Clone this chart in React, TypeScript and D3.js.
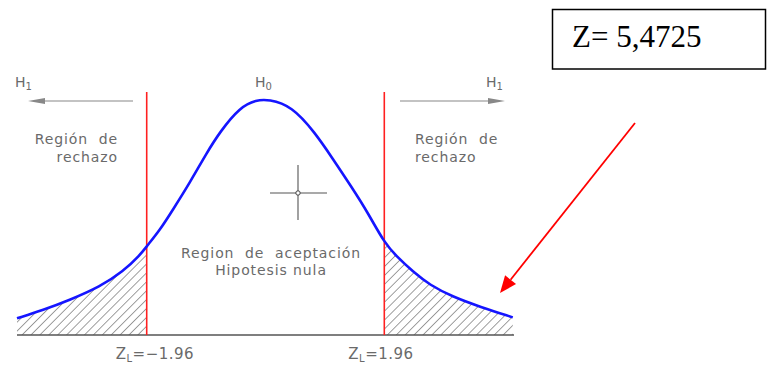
import React from "react";
import * as d3 from "d3";

// Curve: z value and density
const zValues = [-4.1, -3.67, -3.23, -2.73, -2.35, -2.07, -1.96, -1.74, -1.53, -1.25, -0.97, -0.75, -0.42, -0.15, 0.05, 0.43, 0.82, 1.09, 1.42, 1.69, 1.96, 2.17, 2.43, 2.71, 3.09, 3.54, 4.08];
const densities = [0.0284, 0.0426, 0.0596, 0.0822, 0.108, 0.136, 0.151, 0.179, 0.213, 0.259, 0.31, 0.346, 0.388, 0.4, 0.401, 0.39, 0.344, 0.303, 0.252, 0.208, 0.157, 0.133, 0.108, 0.085, 0.065, 0.048, 0.03];
const criticalValues = [-1.96, 1.96];
const criticalLabels = ["Z", "Z"];
const criticalTexts = ["=\u22121.96", "=1.96"];
const zStatisticText = "Z= 5,4725";

const W = 774;
const H = 367;

export default function App() {
  const x = d3.scaleLinear().domain([-4.1, 4.1]).range([17, 514]);
  const y = d3.scaleLinear().domain([0, 0.4]).range([335, 100]);
  const pts = zValues.map((z, i) => ({ z, d: densities[i] }));
  const curve = d3.curveBasis;
  const line = d3.line<any>().x((p) => x(p.z)).y((p) => y(p.d)).curve(curve);
  const area = d3.area<any>().x((p) => x(p.z)).y0(y(0)).y1((p) => y(p.d)).curve(curve);
  const gray = "#6a6a6a";
  const font = "'DejaVu Sans', sans-serif";
  const zMin = zValues[0];
  const zMax = zValues[zValues.length - 1];

  // red annotation arrow
  const ax1 = 635, ay1 = 123, ax2 = 500, ay2 = 293;
  const ang = Math.atan2(ay2 - ay1, ax2 - ax1);
  const hl = 17, hw = 7;
  const bx = ax2 - hl * Math.cos(ang), by = ay2 - hl * Math.sin(ang);
  const head = [
    [ax2, ay2],
    [bx + hw * Math.sin(ang), by - hw * Math.cos(ang)],
    [bx - hw * Math.sin(ang), by + hw * Math.cos(ang)],
  ].map((p) => p.join(",")).join(" ");

  const textStyle: any = { fontFamily: font, fontSize: 14, fill: gray, letterSpacing: 0.9 };

  return (
    <svg width={W} height={H} style={{ position: "absolute", left: 0, top: 0, background: "#fff" }}>
      <defs>
        <pattern id="hatch" patternUnits="userSpaceOnUse" width={6.3} height={6.3} patternTransform="rotate(45)">
          <line x1={0} y1={0} x2={0} y2={6.3} stroke="#505050" strokeWidth={1.1} />
        </pattern>
        <clipPath id="clipL">
          <rect x={x(zMin) - 2} y={0} width={x(criticalValues[0]) - x(zMin) + 2} height={H} />
        </clipPath>
        <clipPath id="clipR">
          <rect x={x(criticalValues[1])} y={0} width={x(zMax) - x(criticalValues[1]) + 2} height={H} />
        </clipPath>
      </defs>
      <rect width={W} height={H} fill="#fff" />

      {/* hatched rejection areas */}
      <path d={area(pts) || ""} fill="url(#hatch)" clipPath="url(#clipL)" />
      <path d={area(pts) || ""} fill="url(#hatch)" clipPath="url(#clipR)" />

      {/* baseline */}
      <line x1={x(-4.1)} x2={x(4.1)} y1={y(0)} y2={y(0)} stroke="#555" strokeWidth={1.3} />

      {/* critical lines */}
      {criticalValues.map((c, i) => (
        <line key={i} x1={x(c)} x2={x(c)} y1={92} y2={y(0)} stroke="#ff2020" strokeWidth={1.6} />
      ))}

      {/* curve */}
      <path d={line(pts) || ""} fill="none" stroke="#1515ff" strokeWidth={2.6} />

      {/* H1 arrows */}
      <line x1={133} x2={40} y1={101} y2={101} stroke="#888" strokeWidth={1.2} />
      <polygon points="28,101 45,98 45,104" fill="#888" />
      <line x1={400} x2={493} y1={101} y2={101} stroke="#888" strokeWidth={1.2} />
      <polygon points="505,101 488,98 488,104" fill="#888" />

      <text x={15} y={87} style={{ ...textStyle, fontSize: 14, letterSpacing: 0 }}>H<tspan fontSize={10} dy={3}>1</tspan></text>
      <text x={486} y={87} style={{ ...textStyle, fontSize: 14, letterSpacing: 0 }}>H<tspan fontSize={10} dy={3}>1</tspan></text>
      <text x={255} y={87} style={{ ...textStyle, fontSize: 14, letterSpacing: 0 }}>H<tspan fontSize={10} dy={3}>0</tspan></text>

      {/* rejection texts */}
      <text x={118} y={144} textAnchor="end" style={textStyle} xmlSpace="preserve">Región  de</text>
      <text x={118} y={162} textAnchor="end" style={textStyle}>rechazo</text>
      <text x={415} y={144} style={textStyle} xmlSpace="preserve">Región  de</text>
      <text x={415} y={162} style={textStyle}>rechazo</text>

      {/* acceptance text */}
      <text x={271} y={258} textAnchor="middle" style={textStyle} xmlSpace="preserve">Region  de  aceptación</text>
      <text x={271} y={275} textAnchor="middle" style={textStyle}>Hipotesis nula</text>

      {/* crosshair */}
      <line x1={270} x2={327} y1={193} y2={193} stroke="#555" strokeWidth={1.1} />
      <line x1={298} x2={298} y1={165} y2={220} stroke="#555" strokeWidth={1.1} />
      <circle cx={298} cy={193} r={2.2} fill="#fff" stroke="#444" strokeWidth={1} />

      {/* critical labels */}
      {criticalValues.map((c, i) => (
        <text key={i} x={x(c) - 31 + (i === 1 ? -5 : 0)} y={359} style={{ ...textStyle, fontSize: 15, letterSpacing: 0.5 }}>
          {criticalLabels[i]}
          <tspan fontSize={10} dy={3}>L</tspan>
          <tspan dy={-3}>{criticalTexts[i]}</tspan>
        </text>
      ))}

      {/* red annotation arrow */}
      <line x1={ax1} y1={ay1} x2={bx} y2={by} stroke="#ff0000" strokeWidth={1.8} />
      <polygon points={head} fill="#ff0000" />

      {/* Z box */}
      <rect x={552.5} y={9.5} width={213} height={59.5} fill="#fff" stroke="#000" strokeWidth={1.5} />
      <text x={572} y={47} style={{ fontFamily: "'Liberation Serif', 'Times New Roman', serif", fontSize: 31, fill: "#000" }}>{zStatisticText}</text>
    </svg>
  );
}
